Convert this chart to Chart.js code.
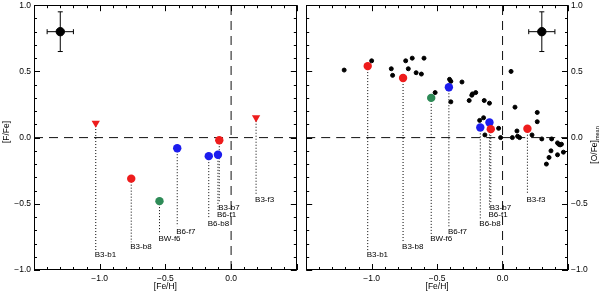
<!DOCTYPE html>
<html>
<head>
<meta charset="utf-8">
<script src="https://cdn.jsdelivr.net/npm/chart.js@4.4.1/dist/chart.umd.min.js"></script>
<style>
    html, body { margin: 0; padding: 0; background: #fff; }
    #wrap { position: relative; width: 600px; height: 293px; }
    canvas { position: absolute; top: 0; }
</style>
</head>
<body>
<div id="wrap">
    <canvas id="leftPanel" width="302" height="293" style="left:0"></canvas>
    <canvas id="rightPanel" width="299" height="293" style="left:301px"></canvas>
</div>
<script>
// stars of the sample (same order in every array)
const starNames = ['B3-b1', 'B3-b8', 'BW-f6', 'B6-f7', 'B6-b8', 'B3-b7', 'B6-f1', 'B3-f3'];
const starFeH = [-1.03, -0.76, -0.545, -0.41, -0.17, -0.09, -0.10, 0.19];
const starFFe = [0.11, -0.31, -0.48, -0.08, -0.14, -0.02, -0.13, 0.15];
const starOFe = [0.54, 0.45, 0.30, 0.38, 0.077, 0.064, 0.114, 0.067];
const starUpperLimit = [true, false, false, false, false, false, false, true];
const starColors = ['#ee1c1c', '#ee1c1c', '#2e8b57', '#1c1cee', '#1c1cee', '#ee1c1c', '#1c1cee', '#ee1c1c'];
// where the dotted line stops and the name starts
const labelY = [-0.85, -0.79, -0.73, -0.67, -0.61, -0.49, -0.545, -0.43];

// comparison sample, right panel
const fieldFeH = [-1.21, -1.00, -0.85, -0.84, -0.74, -0.72, -0.69, -0.66, -0.62, -0.60,
    -0.515, -0.405, -0.395, -0.395, -0.31, -0.255, -0.235, -0.23, -0.205, -0.14,
    -0.10, -0.175, -0.145, -0.135, -0.03, -0.015, 0.065, 0.095, 0.075, 0.11,
    0.115, 0.13, 0.225, 0.265, 0.265, 0.30, 0.375, 0.42, 0.43, 0.44,
    0.45, 0.37, 0.42, 0.465, 0.355, 0.335];
const fieldOFe = [0.51, 0.58, 0.52, 0.47, 0.58, 0.52, 0.60, 0.49, 0.48, 0.60,
    0.34, 0.44, 0.425, 0.27, 0.42, 0.28, 0.32, 0.33, 0.34, 0.28,
    0.26, 0.13, 0.15, 0.02, 0.07, 0.0, 0.50, 0.23, 0.0, 0.05,
    0.01, 0.0, 0.02, 0.19, 0.12, -0.01, -0.01, -0.04, -0.05, -0.055,
    -0.05, -0.10, -0.13, -0.11, -0.15, -0.20];

// typical error bar
const errLeft = { x: -1.3, y: 0.8, dx: 0.1, dy: 0.15 };
const errRight = { x: 0.3, y: 0.8, dx: 0.1, dy: 0.15 };

const xRange = [-1.5, 0.5];
const yRange = [-1.0, 1.0];
const xTickLabels = [-1.0, -0.5, 0.0];
const yTickLabels = [-1.0, -0.5, 0.0, 0.5, 1.0];

const FONT = 'Liberation Sans, Arial, sans-serif';

function fmt(v) {
    const s = Math.abs(v).toFixed(1);
    return v < -0.001 ? '\u2212' + s : s;
}

// рамка, внутренние штрихи, подписи звёзд и осей
const framePlugin = {
    id: 'frame',
    afterDatasetsDraw(chart, args, opts) {
        const ctx = chart.ctx;
        const a = chart.chartArea;
        const xs = chart.scales.x, ys = chart.scales.y;
        ctx.save();
        ctx.strokeStyle = '#000';
        ctx.lineWidth = 1;
        ctx.strokeRect(Math.round(a.left) + 0.5, Math.round(a.top) + 0.5,
            Math.round(a.right - a.left) - 1, Math.round(a.bottom - a.top) - 1);
        ctx.beginPath();
        for (let i = -15; i <= 5; i++) {
            const px = Math.round(xs.getPixelForValue(i / 10)) + 0.5;
            const len = i % 5 === 0 ? 6 : 3;
            ctx.moveTo(px, a.bottom); ctx.lineTo(px, a.bottom - len);
            ctx.moveTo(px, a.top); ctx.lineTo(px, a.top + len);
        }
        for (let i = -10; i <= 10; i++) {
            const py = Math.round(ys.getPixelForValue(i / 10)) + 0.5;
            const len = i % 5 === 0 ? 6 : 3;
            ctx.moveTo(a.left, py); ctx.lineTo(a.left + len, py);
            ctx.moveTo(a.right, py); ctx.lineTo(a.right - len, py);
        }
        ctx.stroke();

        // имена звёзд
        ctx.fillStyle = '#000';
        ctx.font = '8px ' + FONT;
        ctx.textAlign = 'left';
        ctx.textBaseline = 'top';
        starNames.forEach((name, i) => {
            ctx.fillText(name, xs.getPixelForValue(starFeH[i]) - 1, ys.getPixelForValue(labelY[i]) + 1);
        });

        // подписи осей
        ctx.font = '8.5px ' + FONT;
        ctx.textAlign = 'center';
        ctx.textBaseline = 'middle';
        ctx.fillText('[Fe/H]', (a.left + a.right) / 2, 287);
        ctx.save();
        if (opts.side === 'left') {
            ctx.translate(7, 132);
            ctx.rotate(-Math.PI / 2);
            ctx.fillText('[F/Fe]', 0, 0);
        } else {
            ctx.translate(294, 145);
            ctx.rotate(-Math.PI / 2);
            ctx.textAlign = 'left';
            const w1 = ctx.measureText('[O/Fe]').width;
            ctx.font = '5.5px ' + FONT;
            const w2 = ctx.measureText('mean').width;
            const start = -(w1 + w2) / 2;
            ctx.font = '8.5px ' + FONT;
            ctx.fillText('[O/Fe]', start, 0);
            ctx.font = '5.5px ' + FONT;
            ctx.fillText('mean', start + w1, 2.5);
        }
        ctx.restore();
        ctx.restore();
    }
};

function errorBarSets(e) {
    return [
        {
            type: 'line', data: [{ x: e.x - e.dx, y: e.y }, { x: e.x + e.dx, y: e.y }],
            borderColor: '#000', borderWidth: 1, pointStyle: 'line', rotation: 90,
            pointRadius: 2.5, pointBorderColor: '#000', pointBorderWidth: 1, order: 1
        },
        {
            type: 'line', data: [{ x: e.x, y: e.y - e.dy }, { x: e.x, y: e.y + e.dy }],
            borderColor: '#000', borderWidth: 1, pointStyle: 'line', rotation: 0,
            pointRadius: 2.5, pointBorderColor: '#000', pointBorderWidth: 1, order: 1
        },
        {
            type: 'scatter', data: [{ x: e.x, y: e.y }],
            pointRadius: 4.2, pointBackgroundColor: '#000', pointBorderColor: '#000', order: 0
        }
    ];
}

function buildDatasets(yValues, side) {
    const sets = [];
    // dashed zero lines
    sets.push({
        type: 'line', data: [{ x: xRange[0], y: 0 }, { x: xRange[1], y: 0 }],
        borderColor: '#111', borderWidth: 1, borderDash: [9, 6], pointRadius: 0, order: 3
    });
    sets.push({
        type: 'line', data: [{ x: 0, y: yRange[0] }, { x: 0, y: yRange[1] }],
        borderColor: '#111', borderWidth: 1, borderDash: [9, 6], pointRadius: 0, order: 3
    });
    // dotted drop lines to names
    starNames.forEach((name, i) => {
        sets.push({
            type: 'line', data: [{ x: starFeH[i], y: yValues[i] }, { x: starFeH[i], y: labelY[i] }],
            borderColor: '#000', borderWidth: 1, borderDash: [1, 2], pointRadius: 0, order: 2
        });
    });
    if (side === 'right') {
        sets.push({
            type: 'scatter', data: fieldFeH.map((x, i) => ({ x: x, y: fieldOFe[i] })),
            pointRadius: 2, pointBackgroundColor: '#000', pointBorderColor: '#000', order: 1
        });
    }
    // stars
    starNames.forEach((name, i) => {
        const limit = side === 'left' && starUpperLimit[i];
        sets.push({
            type: 'scatter', label: name, data: [{ x: starFeH[i], y: yValues[i] }],
            pointStyle: limit ? 'triangle' : 'circle', rotation: limit ? 180 : 0,
            pointRadius: limit ? 4.8 : 4.2,
            pointBackgroundColor: starColors[i], pointBorderColor: starColors[i], pointBorderWidth: 0,
            order: 0
        });
    });
    return sets.concat(errorBarSets(side === 'left' ? errLeft : errRight));
}

// убираем запас под крайние подписи, чтобы поле графика стояло точно
function noEdgePadding(s) {
    s.paddingTop = 0;
    s.paddingBottom = 0;
    s.paddingLeft = 0;
    s.paddingRight = 0;
}

function createPanel(canvasId, side) {
    const yValues = side === 'left' ? starFFe : starOFe;
    return new Chart(document.getElementById(canvasId), {
        type: 'scatter',
        data: { datasets: buildDatasets(yValues, side) },
        options: {
            responsive: false,
            animation: false,
            devicePixelRatio: 1,
            layout: { padding: { top: 2, right: side === 'left' ? 1 : 0, left: 0, bottom: 0 } },
            plugins: { legend: { display: false }, tooltip: { enabled: false }, frame: { side: side } },
            scales: {
                x: {
                    type: 'linear', min: xRange[0], max: xRange[1],
                    grid: { display: false, drawTicks: false },
                    border: { display: false },
                    afterFit: (s) => { s.height = 23; noEdgePadding(s); },
                    afterBuildTicks: (s) => { s.ticks = xTickLabels.map(v => ({ value: v })); },
                    ticks: {
                        padding: 4, color: '#000', maxRotation: 0,
                        font: { family: FONT, size: 8.5 },
                        callback: (v) => fmt(v)
                    }
                },
                y: {
                    type: 'linear', position: side, min: yRange[0], max: yRange[1],
                    grid: { display: false, drawTicks: false },
                    border: { display: false },
                    afterFit: (s) => { s.width = side === 'left' ? 34 : 32; noEdgePadding(s); },
                    afterBuildTicks: (s) => { s.ticks = yTickLabels.map(v => ({ value: v })); },
                    ticks: {
                        padding: 3, color: '#000',
                        font: { family: FONT, size: 8.5 },
                        callback: (v) => fmt(v)
                    }
                }
            }
        },
        plugins: [framePlugin]
    });
}

createPanel('leftPanel', 'left');
createPanel('rightPanel', 'right');
</script>
</body>
</html>
